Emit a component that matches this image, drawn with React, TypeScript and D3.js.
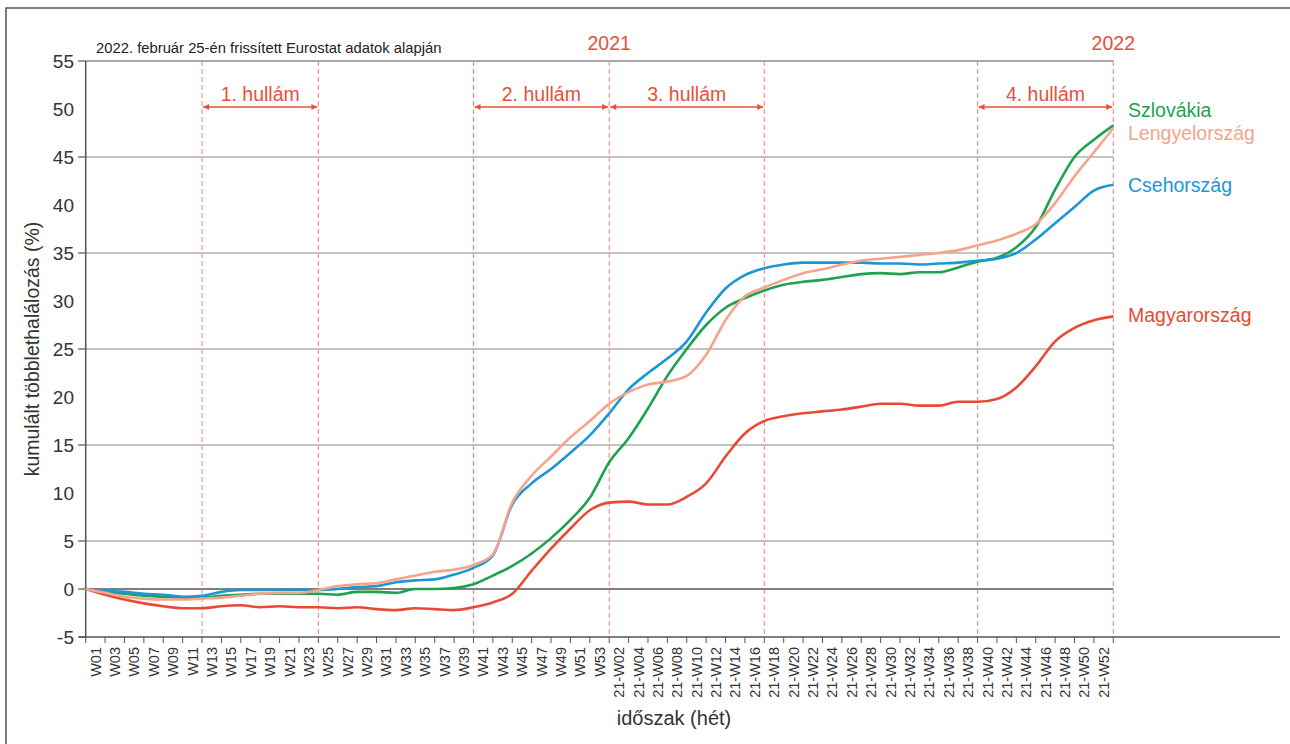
import React from "react";
import * as d3 from "d3";

const xLabels = [
  "W01","W03","W05","W07","W09","W11","W13","W15","W17","W19","W21","W23","W25","W27",
  "W29","W31","W33","W35","W37","W39","W41","W43","W45","W47","W49","W51","W53",
  "21-W02","21-W04","21-W06","21-W08","21-W10","21-W12","21-W14","21-W16","21-W18",
  "21-W20","21-W22","21-W24","21-W26","21-W28","21-W30","21-W32","21-W34","21-W36",
  "21-W38","21-W40","21-W42","21-W44","21-W46","21-W48","21-W50","21-W52",
];

const yTicks = [55, 50, 45, 40, 35, 30, 25, 20, 15, 10, 5, 0, -5];
const gridValues = [45, 35, 25, 15, 5];
const tickMarkValues = [55, 45, 35, 25, 15, 5, 0, -5];

// values at every tick boundary (every 2 weeks), 54 points
const magyar = [
  0, -0.6, -1.1, -1.5, -1.8, -2.0, -2.0, -1.8, -1.7, -1.9, -1.8, -1.9, -1.9, -2.0,
  -1.9, -2.1, -2.2, -2.0, -2.1, -2.2, -1.9, -1.4, -0.5, 1.9, 4.2, 6.3, 8.2, 9.0,
  9.1, 8.8, 8.8, 9.6, 11.0, 13.8, 16.2, 17.5, 18.0, 18.3, 18.5, 18.7, 19.0, 19.3,
  19.3, 19.1, 19.1, 19.5, 19.5, 19.8, 21.0, 23.2, 25.8, 27.2, 28.0, 28.4,
];
const cseh = [
  0, -0.2, -0.3, -0.5, -0.6, -0.8, -0.7, -0.3, -0.1, -0.1, -0.1, -0.1, -0.1, 0.0,
  0.2, 0.3, 0.7, 0.9, 1.0, 1.5, 2.2, 3.5, 8.8, 11.0, 12.5, 14.2, 16.0, 18.3,
  20.8, 22.5, 24.0, 25.8, 28.8, 31.3, 32.7, 33.4, 33.8, 34.0, 34.0, 34.0, 34.0, 33.9,
  33.9, 33.8, 33.9, 34.0, 34.2, 34.4, 35.0, 36.4, 38.1, 39.8, 41.5, 42.1,
];
const lengyel = [
  0, -0.4, -0.8, -1.0, -1.1, -1.1, -1.0, -0.9, -0.7, -0.5, -0.4, -0.4, -0.1, 0.3,
  0.5, 0.6, 1.0, 1.4, 1.8, 2.0, 2.5, 3.6, 9.0, 11.8, 13.8, 15.8, 17.5, 19.3,
  20.5, 21.3, 21.6, 22.2, 24.4, 28.0, 30.5, 31.4, 32.2, 32.9, 33.3, 33.8, 34.2, 34.4,
  34.6, 34.8, 35.0, 35.3, 35.8, 36.3, 37.0, 38.0, 40.2, 43.0, 45.5, 48.0,
];
const szlovak = [
  0, -0.3, -0.5, -0.7, -0.8, -0.9, -0.9, -0.7, -0.6, -0.5, -0.5, -0.5, -0.5, -0.6,
  -0.3, -0.3, -0.4, 0.0, 0.0, 0.1, 0.5, 1.4, 2.4, 3.7, 5.3, 7.2, 9.5, 13.2,
  15.7, 18.8, 22.2, 25.0, 27.5, 29.3, 30.3, 31.1, 31.7, 32.0, 32.2, 32.5, 32.8, 32.9,
  32.8, 33.0, 33.0, 33.5, 34.1, 34.5, 35.6, 37.7, 41.6, 45.0, 46.8, 48.3,
];

const seriesNames = ["Szlovákia", "Lengyelország", "Csehország", "Magyarország"];
const seriesData = [szlovak, lengyel, cseh, magyar];
const seriesColors = ["#1ea24f", "#f5a48c", "#1b97d6", "#e84a34"];
const labelValues = [49.9, 47.5, 42.1, 28.5];
const drawOrder = [3, 0, 2, 1];

const waves = [
  { label: "1. hullám", from: 6, to: 12 },
  { label: "2. hullám", from: 20, to: 27 },
  { label: "3. hullám", from: 27, to: 35 },
  { label: "4. hullám", from: 46, to: 53 },
];
const dashedAt = [6, 12, 20, 27, 35, 46, 53];
const yearMarks = [
  { label: "2021", at: 27 },
  { label: "2022", at: 53 },
];

const RED = "#e8503a";
const DASH = "#f2836f";
const FONT = "'Liberation Sans', Arial, sans-serif";

export default function App() {
  const x = d3.scaleLinear().domain([0, 53]).range([85.7, 1113.3]);
  const y = d3.scaleLinear().domain([-5, 55]).range([637, 61]);
  const line = d3
    .line<number>()
    .x((_, i) => x(i))
    .y((d) => y(d))
    .curve(d3.curveMonotoneX);

  const tickIdx = d3.range(0, 54);
  const arrowY = 107;

  return (
    <svg
      width={1290}
      height={744}
      style={{ position: "absolute", left: 0, top: 0, background: "#fff" }}
      fontFamily={FONT}
    >
      <defs>
        <marker id="ah" viewBox="0 0 10 10" refX="10" refY="5" markerWidth="9" markerHeight="6" orient="auto-start-reverse" markerUnits="userSpaceOnUse">
          <path d="M0,0 L10,5 L0,10 z" fill={RED} />
        </marker>
      </defs>
      <rect x={6} y={8} width={1400} height={900} fill="none" stroke="#555" strokeWidth={1.5} />

      {gridValues.map((v) => (
        <line key={v} x1={x(0)} x2={x(53)} y1={y(v)} y2={y(v)} stroke="#b0b0b0" strokeWidth={1.6} />
      ))}
      <line x1={x(0)} x2={x(53)} y1={y(55)} y2={y(55)} stroke="#a8a8a8" strokeWidth={2} />
      <line x1={x(0)} x2={x(53)} y1={y(0)} y2={y(0)} stroke="#555" strokeWidth={1.5} />

      {dashedAt.map((t) => (
        <line key={t} x1={x(t)} x2={x(t)} y1={y(55)} y2={y(-5)} stroke={DASH} strokeWidth={1} strokeDasharray="5,3" />
      ))}

      <line x1={x(0)} x2={x(0)} y1={y(55)} y2={y(-5)} stroke="#555" strokeWidth={1.5} />
      <line x1={79} x2={1280} y1={y(-5)} y2={y(-5)} stroke="#555" strokeWidth={1.5} />
      {tickMarkValues.map((v) => (
        <line key={v} x1={78} x2={x(0)} y1={y(v)} y2={y(v)} stroke="#555" strokeWidth={1.2} />
      ))}
      {yTicks.map((v) => (
        <text key={v} x={74} y={y(v)} dy="0.36em" textAnchor="end" fontSize={19} fill="#333">
          {v}
        </text>
      ))}
      {tickIdx.map((t) => (
        <line key={t} x1={x(t)} x2={x(t)} y1={y(-5)} y2={y(-5) + 6} stroke="#555" strokeWidth={1} />
      ))}
      {xLabels.map((l, i) => (
        <text
          key={l}
          transform={`translate(${x(i + 0.5)},${647}) rotate(-90)`}
          textAnchor="end"
          dy="0.36em"
          fontSize={14.5}
          fill="#333"
        >
          {l}
        </text>
      ))}

      {drawOrder.map((s) => (
        <path key={s} d={line(seriesData[s]) || ""} fill="none" stroke={seriesColors[s]} strokeWidth={2.6} strokeLinejoin="round" />
      ))}

      {waves.map((w) => (
        <g key={w.label}>
          <line x1={x(w.from) + 1} x2={x(w.to) - 1} y1={arrowY} y2={arrowY} stroke={RED} strokeWidth={1.3} markerStart="url(#ah)" markerEnd="url(#ah)" />
          <text x={(x(w.from) + x(w.to)) / 2} y={101} textAnchor="middle" fontSize={19.5} fill={RED}>
            {w.label}
          </text>
        </g>
      ))}
      {yearMarks.map((m) => (
        <text key={m.label} x={x(m.at)} y={50} textAnchor="middle" fontSize={19.5} fill={RED}>
          {m.label}
        </text>
      ))}

      {seriesNames.map((n, i) => (
        <text key={n} x={1128} y={y(labelValues[i])} dy="0.36em" fontSize={19.5} fill={seriesColors[i]}>
          {n}
        </text>
      ))}

      <text x={96} y={53} fontSize={14.8} fill="#222">
        2022. február 25-én frissített Eurostat adatok alapján
      </text>
      <text transform={`translate(39,${(y(55) + y(-5)) / 2}) rotate(-90)`} textAnchor="middle" fontSize={19.5} fill="#333">
        kumulált többlethalálozás (%)
      </text>
      <text x={674} y={725} textAnchor="middle" fontSize={20} fill="#333">
        időszak (hét)
      </text>
    </svg>
  );
}
